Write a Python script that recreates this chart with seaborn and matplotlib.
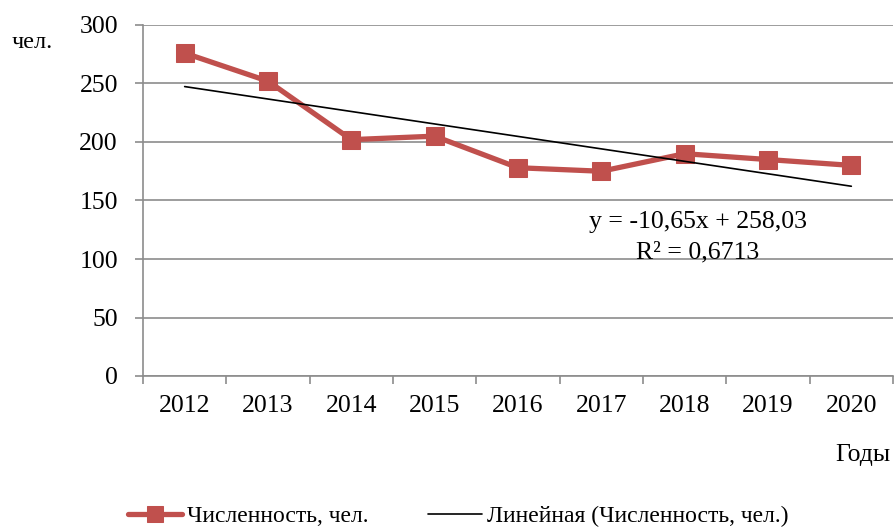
import matplotlib
matplotlib.use("Agg")
import matplotlib.pyplot as plt
import numpy as np
import pandas as pd
import seaborn as sns

years = ["2012", "2013", "2014", "2015", "2016", "2017", "2018", "2019", "2020"]
counts = [276, 252, 202, 205, 178, 175, 190, 185, 180]
series_name = "Численность, чел."
trend_name = "Линейная (Численность, чел.)"

sns.set_style("white")
plt.rcParams["font.family"] = ["Liberation Serif", "DejaVu Serif"]
plt.rcParams["text.color"] = "black"
plt.rcParams["xtick.color"] = "black"
plt.rcParams["ytick.color"] = "black"

df = pd.DataFrame({"pos": np.arange(len(years)), "value": counts})

# linear trend (Excel style, x = 1..n)
xs = np.arange(1, len(years) + 1)
slope, intercept = np.polyfit(xs, counts, 1)
r2 = np.corrcoef(xs, counts)[0, 1] ** 2
df["trend"] = slope * xs + intercept

fig = plt.figure(figsize=(8.96, 5.27), dpi=100)
ax = fig.add_axes([143 / 896, 1 - 376 / 527, 750 / 896, 351 / 527])

red = "#C0504D"
grey = "#8c8c8c"
fs = 18.5
sns.lineplot(data=df, x="pos", y="value", ax=ax, color=red, lw=3.8,
             marker="s", markersize=13, markeredgecolor=red, label=series_name)
sns.lineplot(data=df, x="pos", y="trend", ax=ax, color="black", lw=1.2,
             label=trend_name)

ax.set_xlim(-0.5, len(years) - 0.5)
ax.set_ylim(0, 300)
ax.set_yticks(range(0, 301, 50))
ax.yaxis.grid(True, color=grey, lw=1.2)
ax.set_axisbelow(True)

ax.set_xticks(np.arange(len(years)))
ax.set_xticklabels(years)
ax.set_xticks(np.arange(-0.5, len(years)), minor=True)
ax.tick_params(axis="x", which="major", bottom=True, length=0, pad=14, labelsize=fs)
ax.tick_params(axis="x", which="minor", bottom=True, length=6, color=grey, width=1.2)
ax.tick_params(axis="y", left=True, length=6, color=grey, width=1.2, labelsize=fs, pad=12)

for s in ["top", "right"]:
    ax.spines[s].set_visible(False)
for s in ["left", "bottom"]:
    ax.spines[s].set_color(grey)
    ax.spines[s].set_linewidth(1.2)

ax.set_xlabel("")
ax.set_ylabel("")

fig.text(32 / 896, 1 - 42 / 527, "чел.", fontsize=fs - 1, ha="center", va="center")
fig.text(863 / 896, 1 - 455 / 527, "Годы", fontsize=fs, ha="center", va="center")

eq = "y = {:.2f}x + {:.2f}".format(slope, intercept).replace(".", ",")
r2txt = "R² = {:.4f}".format(r2).replace(".", ",")
ax.text(6.16, 131.5, eq, fontsize=fs, ha="center", va="center")
ax.text(6.16, 106, r2txt, fontsize=fs, ha="center", va="center")

ax.get_legend().remove()
fig.legend(*ax.get_legend_handles_labels(), loc="center",
           bbox_to_anchor=(458 / 896, 1 - 516 / 527), ncol=2, frameon=False,
           fontsize=17, handlelength=2.3, handletextpad=0.2, columnspacing=2.5,
           markerscale=0.9)

fig.savefig("out.png", dpi=100)
